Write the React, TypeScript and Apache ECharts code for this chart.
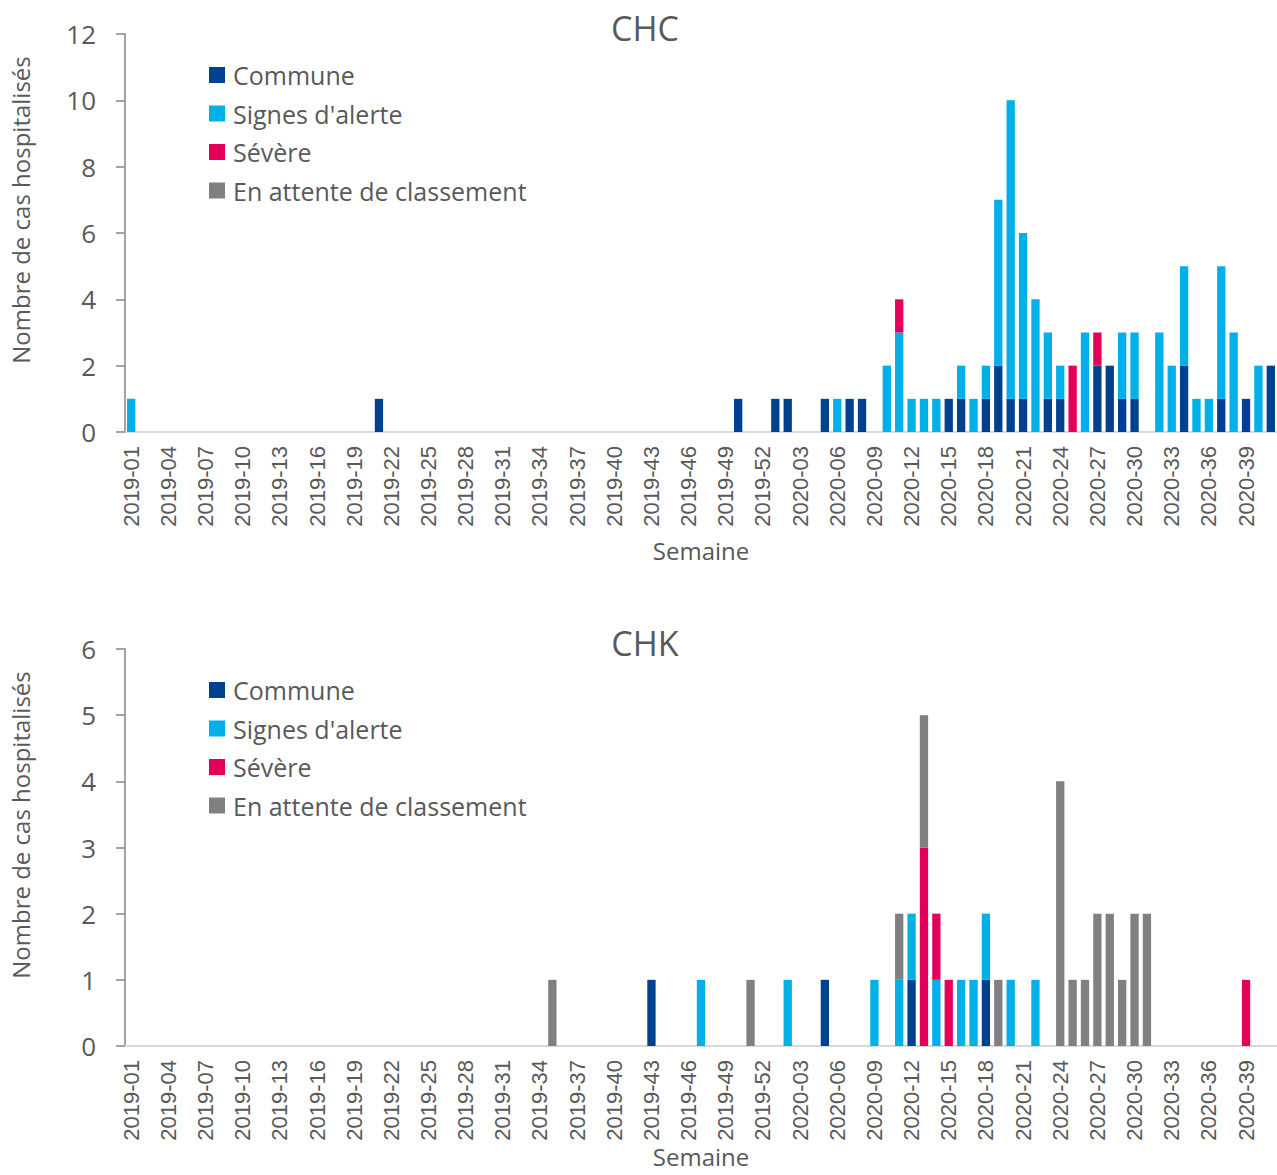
import React, { useEffect, useRef } from "react";
import * as echarts from "echarts";

// Week categories 2019-01 .. 2020-41
const weeks: string[] = [];
for (let w = 1; w <= 52; w++) weeks.push(`2019-${String(w).padStart(2, "0")}`);
for (let w = 1; w <= 41; w++) weeks.push(`2020-${String(w).padStart(2, "0")}`);

const seriesNames = ["Commune", "Signes d'alerte", "Sévère", "En attente de classement"];
const seriesColors = ["#00418F", "#00B0E6", "#E4005A", "#808080"];
const panelTitles = ["CHC", "CHK"];
const yAxisTitle = "Nombre de cas hospitalisés";
const xAxisTitle = "Semaine";
const yMax = [12, 6];
const yInterval = [2, 1];

type Pair = [string, number];

// CHC
const chcCommune: Pair[] = [
  ["2019-21", 1], ["2019-50", 1], ["2020-01", 1], ["2020-02", 1], ["2020-05", 1],
  ["2020-07", 1], ["2020-08", 1], ["2020-15", 1], ["2020-16", 1], ["2020-18", 1],
  ["2020-19", 2], ["2020-20", 1], ["2020-21", 1], ["2020-23", 1], ["2020-24", 1],
  ["2020-27", 2], ["2020-28", 2], ["2020-29", 1], ["2020-30", 1], ["2020-34", 2],
  ["2020-37", 1], ["2020-39", 1], ["2020-41", 2],
];
const chcAlerte: Pair[] = [
  ["2019-01", 1], ["2020-06", 1], ["2020-10", 2], ["2020-11", 3], ["2020-12", 1],
  ["2020-13", 1], ["2020-14", 1], ["2020-16", 1], ["2020-17", 1], ["2020-18", 1],
  ["2020-19", 5], ["2020-20", 9], ["2020-21", 5], ["2020-22", 4], ["2020-23", 2],
  ["2020-24", 1], ["2020-26", 3], ["2020-29", 2], ["2020-30", 2], ["2020-32", 3],
  ["2020-33", 2], ["2020-34", 3], ["2020-35", 1], ["2020-36", 1], ["2020-37", 4],
  ["2020-38", 3], ["2020-40", 2],
];
const chcSevere: Pair[] = [["2020-11", 1], ["2020-25", 2], ["2020-27", 1]];
const chcAttente: Pair[] = [];

// CHK
const chkCommune: Pair[] = [["2019-43", 1], ["2020-05", 1], ["2020-12", 1], ["2020-18", 1]];
const chkAlerte: Pair[] = [
  ["2019-47", 1], ["2020-02", 1], ["2020-09", 1], ["2020-11", 1], ["2020-12", 1],
  ["2020-14", 1], ["2020-16", 1], ["2020-17", 1], ["2020-18", 1], ["2020-20", 1],
  ["2020-22", 1],
];
const chkSevere: Pair[] = [["2020-13", 3], ["2020-14", 1], ["2020-15", 1], ["2020-39", 1]];
const chkAttente: Pair[] = [
  ["2019-35", 1], ["2019-51", 1], ["2020-11", 1], ["2020-13", 2], ["2020-19", 1],
  ["2020-24", 4], ["2020-25", 1], ["2020-26", 1], ["2020-27", 2], ["2020-28", 2],
  ["2020-29", 1], ["2020-30", 2], ["2020-31", 2],
];

const panels: Pair[][][] = [
  [chcCommune, chcAlerte, chcSevere, chcAttente],
  [chkCommune, chkAlerte, chkSevere, chkAttente],
];

const toArr = (pairs: Pair[]) =>
  weeks.map((w) => {
    const f = pairs.find((p) => p[0] === w);
    return f ? f[1] : null;
  });

const TEXT = "#595959";
const FONT = "Open Sans";

const gridTops = [34, 649];
const gridHeights = [398, 397];
const legendTops = [62.5, 677.5];
const titleTops = [11, 626];
const yNameCenters = [210, 825];
const xNameGaps = [106, 98];

export default function App() {
  const ref = useRef<HTMLDivElement>(null);
  useEffect(() => {
    if (!ref.current) return;
    const chart = echarts.init(ref.current, null, { renderer: "svg" });
    const option: any = {
      animation: false,
      backgroundColor: "#ffffff",
      title: panelTitles.map((t, i) => ({
        text: t,
        left: 645,
        top: titleTops[i],
        padding: 0,
        textAlign: "center",
        textStyle: { fontSize: 34, fontWeight: "normal", color: TEXT, fontFamily: FONT },
      })),
      legend: legendTops.map((top) => ({
        orient: "vertical",
        left: 209,
        top,
        padding: 0,
        icon: "rect",
        itemWidth: 16,
        itemHeight: 16,
        itemGap: 13.5,
        data: seriesNames,
        selectedMode: false,
        textStyle: { fontSize: 25, lineHeight: 25, color: TEXT, fontFamily: FONT, padding: [0, 0, 0, 3] },
      })),
      graphic: yNameCenters.map((cy) => ({
        type: "text",
        x: 20,
        y: cy,
        rotation: Math.PI / 2,
        style: {
          text: yAxisTitle,
          align: "center",
          verticalAlign: "middle",
          fontSize: 24,
          fontFamily: FONT,
          fill: TEXT,
        },
      })),
      grid: gridTops.map((top, i) => ({ left: 125, top, width: 1156, height: gridHeights[i] })),
      xAxis: [0, 1].map((i) => ({
        type: "category",
        gridIndex: i,
        data: weeks,
        axisLine: { lineStyle: { color: "#D9D9D9", width: 2 } },
        axisTick: { show: false },
        axisLabel: {
          interval: 2,
          rotate: 90,
          fontSize: 22,
          fontFamily: "Liberation Sans",
          color: TEXT,
          margin: 14,
        },
        name: xAxisTitle,
        nameLocation: "middle",
        nameGap: xNameGaps[i],
        nameTextStyle: { fontSize: 24, fontFamily: FONT, color: TEXT },
      })),
      yAxis: [0, 1].map((i) => ({
        type: "value",
        gridIndex: i,
        min: 0,
        max: yMax[i],
        interval: yInterval[i],
        axisLine: { show: true, lineStyle: { color: "#868686", width: 1.5 } },
        axisTick: { show: true, length: 9, lineStyle: { color: "#868686", width: 1.5 } },
        splitLine: { show: false },
        axisLabel: { fontSize: 26, fontFamily: FONT, color: TEXT, margin: 29 },
      })),
      series: panels.flatMap((panel, p) =>
        panel.map((pairs, s) => ({
          type: "bar",
          name: seriesNames[s],
          xAxisIndex: p,
          yAxisIndex: p,
          stack: `panel${p}`,
          barCategoryGap: "33%",
          itemStyle: { color: seriesColors[s] },
          data: toArr(pairs),
        }))
      ),
    };
    chart.setOption(option);
    return () => chart.dispose();
  }, []);
  return (
    <div
      ref={ref}
      style={{ position: "absolute", left: 0, top: 0, width: 1277, height: 1175 }}
    />
  );
}
